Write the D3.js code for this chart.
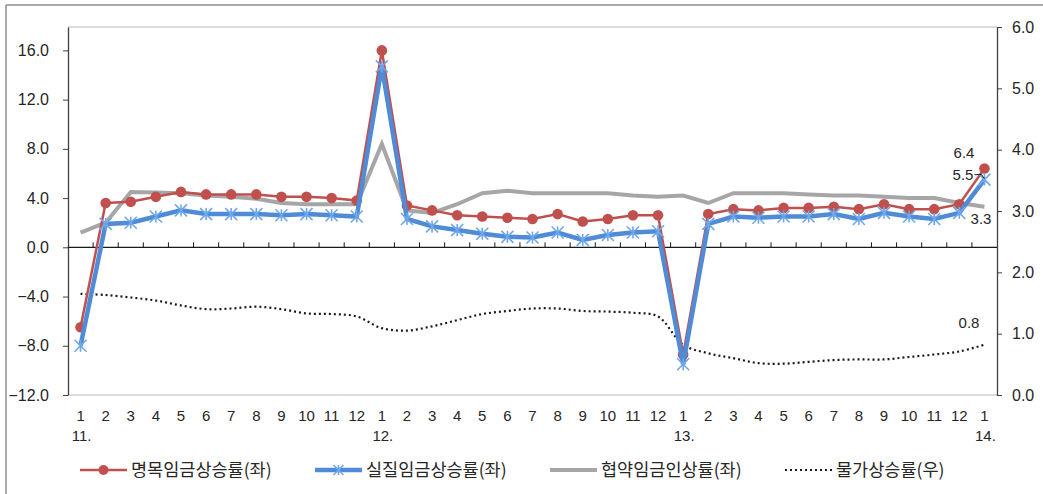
<!DOCTYPE html>
<html>
<head>
<meta charset="utf-8">
<script src="https://cdn.jsdelivr.net/npm/d3@7"></script>
<style>
  body { margin: 0; background: #fff; }
  text { font-family: "Liberation Sans", Arial, sans-serif; fill: #262626; }
  .kr { font-family: "Noto Sans CJK KR", "Noto Sans", sans-serif; }
</style>
</head>
<body>
<script>
// months from 2011.1 to 2014.1
var months = ["1","2","3","4","5","6","7","8","9","10","11","12",
              "1","2","3","4","5","6","7","8","9","10","11","12",
              "1","2","3","4","5","6","7","8","9","10","11","12","1"];
var years = {0: "11.", 12: "12.", 24: "13.", 36: "14."};

// 명목임금상승률 (left axis)
var nominal = [-6.5,3.6,3.7,4.1,4.5,4.3,4.3,4.3,4.1,4.1,4.0,3.8,
               16.0,3.4,3.0,2.6,2.5,2.4,2.3,2.7,2.1,2.3,2.6,2.6,
               -8.7,2.7,3.1,3.0,3.2,3.2,3.3,3.1,3.5,3.1,3.1,3.5,6.4];
// 실질임금상승률 (left axis)
var real = [-8.0,1.9,2.0,2.5,3.0,2.7,2.7,2.7,2.6,2.7,2.6,2.5,
            14.7,2.3,1.7,1.4,1.1,0.85,0.8,1.2,0.6,1.0,1.2,1.3,
            -9.5,1.9,2.5,2.4,2.5,2.5,2.7,2.3,2.8,2.5,2.3,2.8,5.5];
// 협약임금인상률 (left axis)
var negotiated = [1.2,2.0,4.5,4.45,4.4,4.2,4.1,3.95,3.6,3.5,3.5,3.5,
                  8.4,3.0,2.8,3.5,4.4,4.6,4.4,4.4,4.4,4.4,4.2,4.1,
                  4.2,3.6,4.4,4.4,4.4,4.3,4.2,4.2,4.1,4.0,4.0,3.6,3.3];
// 물가상승률 (right axis)
var prices = [1.65,1.63,1.59,1.54,1.46,1.40,1.41,1.44,1.40,1.33,1.32,1.28,
              1.09,1.05,1.12,1.22,1.32,1.37,1.41,1.41,1.37,1.36,1.34,1.28,
              0.82,0.68,0.60,0.52,0.51,0.54,0.57,0.58,0.58,0.62,0.66,0.71,0.82];

var leftTicks = [-12,-8,-4,0,4,8,12,16];
var rightTicks = [0,1,2,3,4,5,6];
var legendNames = ["명목임금상승률(좌)","실질임금상승률(좌)","협약임금인상률(좌)","물가상승률(우)"];

var width = 1043, height = 494;
var pLeft = 68, pRight = 997, pTop = 27, pBottom = 395;

var svg = d3.select("body").append("svg")
    .attr("width", width)
    .attr("height", height);

// outer frame (top and left only visible)
svg.append("line").attr("x1",6).attr("y1",5).attr("x2",width).attr("y2",5)
   .attr("stroke","#8c8c8c").attr("stroke-width",1.5);
svg.append("line").attr("x1",6).attr("y1",5).attr("x2",6).attr("y2",height)
   .attr("stroke","#8c8c8c").attr("stroke-width",1.5);

var x = d3.scaleBand().domain(d3.range(months.length)).range([pLeft, pRight]);
var yL = d3.scaleLinear().domain([-12, 17.9]).range([pBottom, pTop]);
var yR = d3.scaleLinear().domain([0, 6]).range([pBottom, pTop]);
var cx = function(i){ return x(i) + x.bandwidth()/2; };

// plot border top/bottom
svg.append("line").attr("x1",pLeft).attr("x2",pRight).attr("y1",pTop).attr("y2",pTop)
   .attr("stroke","#d0d0d0").attr("stroke-width",1.5);
svg.append("line").attr("x1",pLeft).attr("x2",pRight).attr("y1",pBottom).attr("y2",pBottom)
   .attr("stroke","#d0d0d0").attr("stroke-width",1.5);

// left axis
var gL = svg.append("g").attr("transform","translate("+pLeft+",0)")
  .call(d3.axisLeft(yL).tickValues(leftTicks).tickSize(5).tickPadding(14)
        .tickFormat(d3.format(".1f")).tickSizeOuter(0));
gL.select(".domain").attr("stroke","#404040").attr("stroke-width",1.3);
gL.selectAll(".tick line").attr("stroke","#404040");
gL.selectAll("text").style("font-size","16px").attr("fill","#262626");

// right axis
var gR = svg.append("g").attr("transform","translate("+pRight+",0)")
  .call(d3.axisRight(yR).tickValues(rightTicks).tickSize(5).tickPadding(10)
        .tickFormat(d3.format(".1f")).tickSizeOuter(0));
gR.select(".domain").attr("stroke","#404040").attr("stroke-width",1.3);
gR.selectAll(".tick line").attr("stroke","#404040");
gR.selectAll("text").style("font-size","16px").attr("fill","#262626");

// zero line with category ticks pointing up
svg.append("line").attr("x1",pLeft).attr("x2",pRight).attr("y1",yL(0)).attr("y2",yL(0))
   .attr("stroke","#1a1a1a").attr("stroke-width",1.3);
svg.append("g").selectAll("line")
  .data(d3.range(1, months.length))
  .enter().append("line")
  .attr("x1", function(i){ return x(i); })
  .attr("x2", function(i){ return x(i); })
  .attr("y1", yL(0)).attr("y2", yL(0) - 5)
  .attr("stroke","#1a1a1a");

// month + year labels
svg.append("g").selectAll("text")
  .data(months).enter().append("text")
  .attr("x", function(d,i){ return cx(i); })
  .attr("y", 421)
  .attr("text-anchor","middle")
  .style("font-size","15px")
  .text(function(d){ return d; });
svg.append("g").selectAll("text")
  .data(Object.keys(years)).enter().append("text")
  .attr("x", function(k){ return cx(+k) + 1; })
  .attr("y", 441)
  .attr("text-anchor","middle")
  .style("font-size","15px")
  .text(function(k){ return years[k]; });

var lineL = d3.line().x(function(d,i){ return cx(i); }).y(function(d){ return yL(d); });
var lineR = d3.line().x(function(d,i){ return cx(i); }).y(function(d){ return yR(d); })
              .curve(d3.curveCatmullRom.alpha(0.5));

var red = "#c0504d", blue = "#4f8bd6", blueMark = "#6fa8ea", gray = "#a6a6a6";

// prices (dotted, right axis)
svg.append("path").datum(prices).attr("d", lineR)
  .attr("fill","none").attr("stroke","#1a1a1a").attr("stroke-width",2.2)
  .attr("stroke-dasharray","2 3");

// negotiated (gray)
svg.append("path").datum(negotiated).attr("d", lineL)
  .attr("fill","none").attr("stroke",gray).attr("stroke-width",4);

// nominal (red with dots)
svg.append("path").datum(nominal).attr("d", lineL)
  .attr("fill","none").attr("stroke",red).attr("stroke-width",2.5);
svg.append("g").selectAll("circle").data(nominal).enter().append("circle")
  .attr("cx", function(d,i){ return cx(i); })
  .attr("cy", function(d){ return yL(d); })
  .attr("r", 5.3).attr("fill", red);

// real (blue with asterisks)
svg.append("path").datum(real).attr("d", lineL)
  .attr("fill","none").attr("stroke",blue).attr("stroke-width",4.5);
var star = function(g, px, py, s) {
  g.append("path")
    .attr("d","M"+px+","+(py-s)+"L"+px+","+(py+s)+
              "M"+(px-s)+","+(py-s)+"L"+(px+s)+","+(py+s)+
              "M"+(px-s)+","+(py+s)+"L"+(px+s)+","+(py-s))
    .attr("stroke", blueMark).attr("stroke-width",1.6).attr("fill","none");
};
var gStar = svg.append("g");
real.forEach(function(d,i){ star(gStar, cx(i), yL(d), 6); });

// end labels
var last = months.length - 1;
svg.append("text").attr("x", cx(last) - 10).attr("y", yL(nominal[last]) - 11)
  .attr("text-anchor","end").style("font-size","15px").text(nominal[last].toFixed(1));
svg.append("text").attr("x", cx(last) - 11).attr("y", yL(real[last]) + 0)
  .attr("text-anchor","end").style("font-size","15px").text(real[last].toFixed(1));
svg.append("path")
  .attr("d","M"+(cx(last)-10)+","+(yL(real[last])-5)+"L"+(cx(last)-3)+","+(yL(real[last])-5)+
            "L"+cx(last)+","+(yL(real[last])-1))
  .attr("stroke","#1a1a1a").attr("fill","none");
svg.append("text").attr("x", cx(last) + 7).attr("y", yL(negotiated[last]) + 17)
  .attr("text-anchor","end").style("font-size","15px").text(negotiated[last].toFixed(1));
svg.append("text").attr("x", cx(last) - 5).attr("y", yR(prices[last]) - 17)
  .attr("text-anchor","end").style("font-size","15px").text(prices[last].toFixed(1));

// legend
var legX = [80, 315, 550, 785];
var legY = 470;
var lg = svg.append("g");
legendNames.forEach(function(name, i) {
  var x0 = legX[i], x1 = x0 + 47;
  var ln = lg.append("line").attr("x1",x0).attr("x2",x1).attr("y1",legY).attr("y2",legY);
  if (i == 0) {
    ln.attr("stroke",red).attr("stroke-width",2.5);
    lg.append("circle").attr("cx",(x0+x1)/2).attr("cy",legY).attr("r",5).attr("fill",red);
  } else if (i == 1) {
    ln.attr("stroke",blue).attr("stroke-width",4.5);
    star(lg, (x0+x1)/2, legY, 5);
  } else if (i == 2) {
    ln.attr("stroke",gray).attr("stroke-width",4);
  } else {
    ln.attr("stroke","#1a1a1a").attr("stroke-width",2.2).attr("stroke-dasharray","2 3");
  }
  lg.append("text").attr("class","kr").attr("x", x1 + 4).attr("y", legY + 6)
    .style("font-size","17.5px").text(name);
});
</script>
</body>
</html>
